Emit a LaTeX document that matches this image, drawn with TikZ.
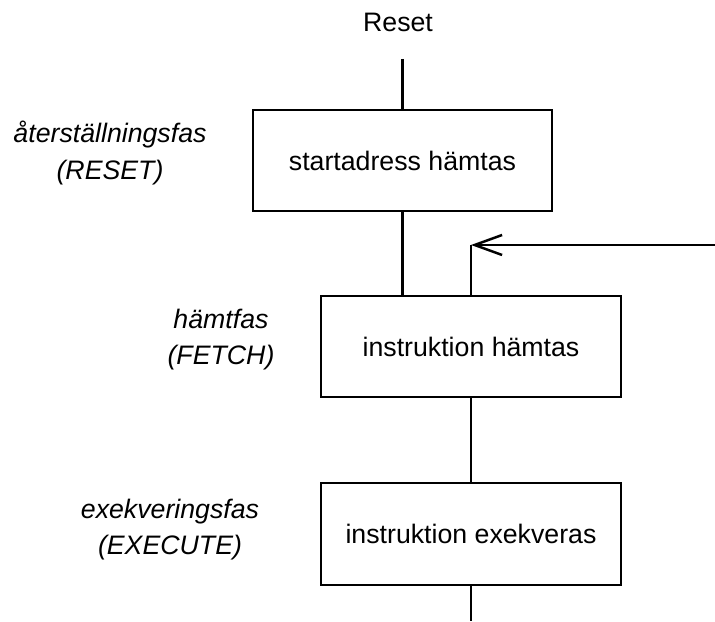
\documentclass[tikz,border=0pt]{standalone}
\usepackage{fontspec}
\setmainfont{Liberation Sans}
\usetikzlibrary{arrows.meta}
\tikzstyle{every node}=[font=\fontsize{15.2}{20.5}\selectfont]
\tikzstyle{steg}=[draw=black,line width=1.3pt,minimum width=6cm,minimum height=2.02cm,inner sep=0pt]
\tikzstyle{fas}=[align=center,font=\fontsize{15.2}{20.5}\selectfont\itshape]

\begin{document}
\begin{tikzpicture}[line width=1.4pt,
	  pil/.style={-{Straight Barb[length=5.5mm,width=4mm,line width=1.4pt]}}]
	  \useasboundingbox (0,0) rectangle (14.3,12.42);
	  % de tre stegen
	  \node[steg,minimum width=5.98cm] (start) at (8.05,9.21) {startadress hämtas};
	  \node[steg] (hamta) at (9.42,5.49) {instruktion hämtas};
	  \node[steg,minimum height=2.04cm] (exekvera) at (9.42,1.74) {instruktion exekveras};
	  % faserna
	  \node[fas] (reset) at (2.2,9.36) {återställningsfas\\(RESET)};
	  \node[fas] (fetch) at (4.42,5.62) {hämtfas\\(FETCH)};
	  \node[fas] (execute) at (3.4,1.82) {exekveringsfas\\(EXECUTE)};
	  % signalen och linjerna
	  \node (resetsig) at (7.96,11.98) {Reset};
	  \coordinate (resetin) at (8.05,11.24);
	  \coordinate (retur) at (14.3,7.52);
	  \coordinate (horn) at (9.42,7.52);
	  \coordinate (ut) at (9.42,0);
	  \draw (resetin) -- (start.north);
	  \draw (start.south) -- (start.south |- hamta.north);
	  \draw[pil] (retur) -- (horn);
	  \draw (horn) -- (hamta.north);
	  \draw (hamta.south) -- (exekvera.north);
	  \draw (exekvera.south) -- (ut);
\end{tikzpicture}
\end{document}
